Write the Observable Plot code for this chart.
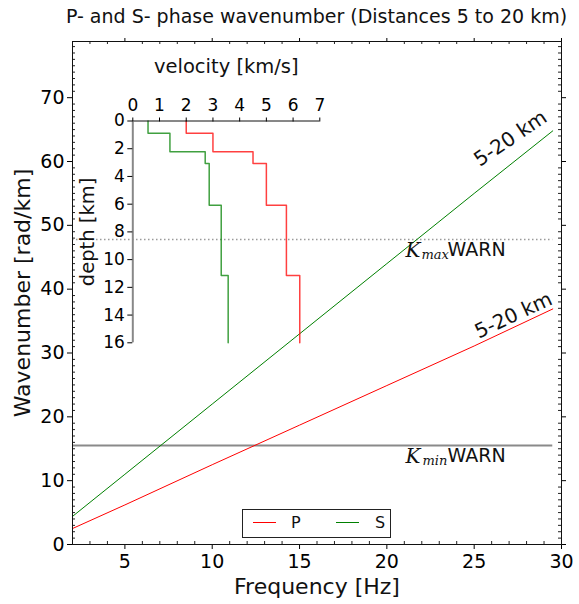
<!DOCTYPE html>
<html>
<head>
<meta charset="utf-8">
<script src="https://cdn.jsdelivr.net/npm/d3@7"></script>
<script src="https://cdn.jsdelivr.net/npm/@observablehq/plot@0.6"></script>
<style>
  html, body { margin: 0; padding: 0; background: white; }
  #wrap { position: relative; width: 579px; height: 604px; font-family: "DejaVu Sans", sans-serif; }
  #title { position: absolute; left: 0; width: 633px; top: 5px; text-align: center; font-size: 19px; color: #111; white-space: nowrap; }
  #inset { position: absolute; left: 80px; top: 50px; }
  #legend { position: absolute; left: 242px; top: 509px; width: 149px; height: 29px; box-sizing: border-box; border: 1px solid #222; background: white; font-size: 16px; color: #111; }
  #legend .sw { position: absolute; top: 12px; width: 23px; height: 1px; }
  #legend .lb { position: absolute; top: 3px; }
</style>
</head>
<body>
<div id="wrap">
  <div id="title">P- and S- phase wavenumber (Distances 5 to 20 km)</div>
  <div id="main"></div>
  <div id="inset"></div>
  <div id="legend">
    <div class="sw" style="left:10px;background:#ff0000"></div><div class="lb" style="left:48px">P</div>
    <div class="sw" style="left:93px;background:#008000"></div><div class="lb" style="left:132px">S</div>
  </div>
</div>
<script>
// ---- main chart data ----
const freqs = [2, 5, 10, 15, 20, 25, 29.5];           // Hz
const kP    = [2.5, 6.2, 12.5, 18.7, 24.9, 31.1, 36.9]; // rad/km
const kS    = [4.4, 11.0, 22.0, 33.0, 44.0, 55.0, 64.8];
const kMax = 47.8;
const kMin = 15.5;
const xTicks = [5, 10, 15, 20, 25, 30];
const yTicks = [0, 10, 20, 30, 40, 50, 60, 70];
const xMinor = [3, 4, 6, 7, 8, 9, 11, 12, 13, 14, 16, 17, 18, 19, 21, 22, 23, 24, 26, 27, 28, 29];
const yMinor = d3.range(1, 79).filter(v => v % 10 !== 0);
const lineLabel = "5-20 km";

// ---- inset data (velocity profile) ----
const layerTops = [0, 0.89, 2.22, 3.07, 6.07, 11.14];
const profileBottom = 16;
const vP = [2.0, 3.0, 4.5, 5.0, 5.75, 6.25];
const vS = [0.57, 1.39, 2.71, 2.86, 3.31, 3.57];
const vTicks = [0, 1, 2, 3, 4, 5, 6, 7];
const dTicks = [0, 2, 4, 6, 8, 10, 12, 14, 16];

const W = 579, H = 604, mL = 72, mR = 18, mT = 41, mB = 60;
const innerW = W - mL - mR, innerH = H - mT - mB;
const font = "DejaVu Sans";
const intFmt = d3.format("d");

const main = Plot.plot({
  width: W, height: H,
  marginLeft: mL, marginRight: mR, marginTop: mT, marginBottom: mB,
  style: { fontFamily: font, fontSize: "17px", color: "black", background: "transparent" },
  x: { domain: [2, 30], label: null },
  y: { domain: [0, 78.8], label: null },
  marks: [
    Plot.ruleY([kMax], { x1: 2, x2: 29.5, stroke: "#9a9a9a", strokeWidth: 1.5, strokeDasharray: "1.5,2.5" }),
    Plot.ruleY([kMin], { x1: 2, x2: 29.5, stroke: "#8a8a8a", strokeWidth: 2 }),
    Plot.line(freqs, { x: freqs, y: kP, stroke: "red", strokeWidth: 1 }),
    Plot.line(freqs, { x: freqs, y: kS, stroke: "#008000", strokeWidth: 1 }),
    Plot.text([lineLabel], { x: 27.08, y: 63.6, text: d => d, rotate: -34, fontSize: 20, fill: "#111" }),
    Plot.text([lineLabel], { x: 27.25, y: 35.9, text: d => d, rotate: -25, fontSize: 20, fill: "#111" }),
    // K labels
    Plot.text(["K"], { x: 21.07, y: kMax, text: d => d, textAnchor: "start", lineAnchor: "top", dy: 3, fontFamily: "DejaVu Serif", fontStyle: "italic", fontSize: 20, fill: "#111" }),
    Plot.text(["max"], { x: 21.07, y: kMax, text: d => d, textAnchor: "start", lineAnchor: "top", dx: 16, dy: 10, fontFamily: "DejaVu Serif", fontStyle: "italic", fontSize: 13, fill: "#111" }),
    Plot.text(["WARN"], { x: 21.07, y: kMax, text: d => d, textAnchor: "start", lineAnchor: "top", dx: 42, dy: 3, fontSize: 19, fill: "#111" }),
    Plot.text(["K"], { x: 21.07, y: kMin, text: d => d, textAnchor: "start", lineAnchor: "top", dy: 3, fontFamily: "DejaVu Serif", fontStyle: "italic", fontSize: 20, fill: "#111" }),
    Plot.text(["min"], { x: 21.07, y: kMin, text: d => d, textAnchor: "start", lineAnchor: "top", dx: 17, dy: 10, fontFamily: "DejaVu Serif", fontStyle: "italic", fontSize: 13, fill: "#111" }),
    Plot.text(["WARN"], { x: 21.07, y: kMin, text: d => d, textAnchor: "start", lineAnchor: "top", dx: 42, dy: 3, fontSize: 19, fill: "#111" }),
    // minor ticks (inward)
    Plot.tickX(xMinor, { x: d => d, insetTop: innerH - 3, stroke: "#222" }),
    Plot.tickX(xMinor, { x: d => d, insetBottom: innerH - 3, stroke: "#222" }),
    Plot.tickY(yMinor, { y: d => d, insetRight: innerW - 3, stroke: "#222" }),
    Plot.tickY(yMinor, { y: d => d, insetLeft: innerW - 3, stroke: "#222" }),
    // major axes
    Plot.axisX({ anchor: "bottom", ticks: xTicks, tickSize: 5, tickPadding: 5, fontSize: 19, tickFormat: intFmt, label: null }),
    Plot.axisX({ anchor: "top", ticks: xTicks, tickSize: 4, tickFormat: () => "", label: null }),
    Plot.axisY({ anchor: "left", ticks: yTicks, tickSize: 5, tickPadding: 3, fontSize: 19, tickFormat: intFmt, label: null }),
    Plot.axisY({ anchor: "right", ticks: yTicks, tickSize: 4, tickFormat: () => "", label: null }),
    Plot.frame({ stroke: "#111" }),
    Plot.text(["Frequency [Hz]"], { frameAnchor: "bottom", dy: 42, lineAnchor: "middle", textAnchor: "middle", text: d => d, fontSize: 22, fill: "#111" }),
    Plot.text(["Wavenumber [rad/km]"], { frameAnchor: "left", dx: -50, rotate: -90, lineAnchor: "middle", textAnchor: "middle", text: d => d, fontSize: 22, fill: "#111" })
  ]
});
document.getElementById("main").appendChild(main);

// ---- inset ----
function profile(v) {
  const pts = layerTops.map((d, i) => ({ v: v[i], d }));
  pts.push({ v: v[v.length - 1], d: profileBottom });
  return pts;
}
const pP = profile(vP), pS = profile(vS);
const inset = Plot.plot({
  width: 250, height: 302,
  marginLeft: 52.3, marginRight: 10.7, marginTop: 70.5, marginBottom: 9.7,
  style: { fontFamily: font, fontSize: "16px", color: "black", background: "transparent", overflow: "visible" },
  x: { domain: [0, 7], label: null },
  y: { domain: [0, 16], reverse: true, label: null },
  marks: [
    Plot.line(pP, { x: "v", y: "d", curve: "step-before", stroke: "red", strokeOpacity: 0.75, strokeWidth: 1.5 }),
    Plot.line(pS, { x: "v", y: "d", curve: "step-before", stroke: "#008000", strokeOpacity: 0.75, strokeWidth: 1.5 }),
    Plot.ruleY([0], { stroke: "#111" }),
    Plot.ruleX([0], { stroke: "#888", strokeWidth: 2 }),
    Plot.axisX({ anchor: "top", ticks: vTicks, tickSize: 4, tickPadding: 6, fontSize: 17, tickFormat: intFmt, label: null }),
    Plot.axisY({ anchor: "left", ticks: dTicks, tickSize: 5, tickPadding: 3, fontSize: 17, tickFormat: intFmt, label: null }),
    Plot.text(["velocity [km/s]"], { frameAnchor: "top", dy: -54, lineAnchor: "middle", textAnchor: "middle", text: d => d, fontSize: 19.5, fill: "#111" }),
    Plot.text(["depth [km]"], { frameAnchor: "left", dx: -45, rotate: -90, lineAnchor: "middle", textAnchor: "middle", text: d => d, fontSize: 19.5, fill: "#111" })
  ]
});
document.getElementById("inset").appendChild(inset);
</script>
</body>
</html>
